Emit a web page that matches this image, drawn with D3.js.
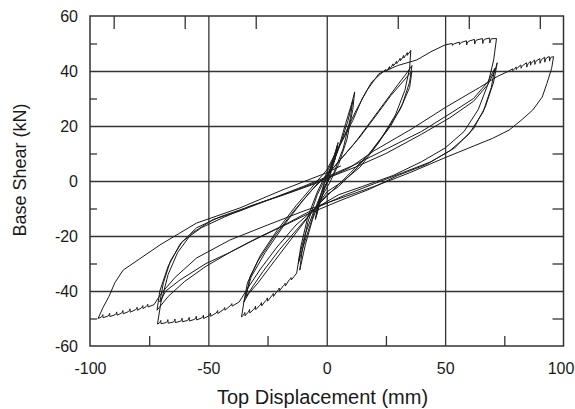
<!DOCTYPE html>
<html>
<head>
<meta charset="utf-8">
<title>Base Shear vs Top Displacement</title>
<script src="https://cdnjs.cloudflare.com/ajax/libs/d3/7.8.5/d3.min.js"></script>
<style>
  body { margin: 0; background: #fff; }
  svg text { font-family: "Liberation Sans", Arial, sans-serif; fill: #1a1a1a; }
</style>
</head>
<body>
<div id="chart"></div>
<script>
// axis ticks
const xTicks = [-100, -50, 0, 50, 100];
const yTicks = [-60, -40, -20, 0, 20, 40, 60];
const xGrid = [-50, 0, 50];
const yGrid = [-40, -20, 0, 20, 40];
const xMinorTop = [-90, -60, -30, 30, 60, 90];
const xMinorBottom = [-75, -25, 25, 75];
const yMinor = [-50, -30, -10, 10, 30, 50];

// hysteresis record, [top displacement mm, base shear kN], in test order
const loops5 = [[0,0],[2,6],[4.5,13],[3.5,8],[1,1],[-1,-3],[-3,-8],[-4.5,-13],[-3.5,-8],[-1,-1],[1,3],[3,8.5],[4.8,14],
  [3.6,8.5],[1,1.5],[-1,-2.5],[-3,-8.5],[-4.8,-14],[-3.6,-8],[-1,-0.5],[0,1]];
const loops12 = [[2,5],[5,12],[8,21],[10.5,28],[11.8,32.4],[11,26],[8.5,15],[5,6],[1,-1],[-3,-7],[-6,-14],[-9,-23],[-11.4,-32.4],
  [-10.5,-26],[-8,-15],[-4,-5],[0,2],[3,7],[6,14],[9,22],[11,29.5],[10,23],[7,12],[3,3],[-1,-2],[-4,-8],[-7,-16],[-10,-24],
  [-12,-30],[-11,-24],[-8,-13],[-4,-4],[0,3]];
const up35 = [[5,12],[11,22],[15,30],[19,36],[23.6,39.6]];
const down35a = [[35,41],[33,33],[29,24],[22,14],[14,5],[7,0],[0,-4],[-5,-10],[-9,-19],[-11.5,-27],[-12.7,-33.5]];
const up35a = [[-35,-44],[-32,-35],[-26,-26],[-18,-16],[-10,-7],[-4,-1],[0,2],[6,8],[12,14],[18,21],[24,28],[30,35],[34,39.5],[36,42]];
const down35b = [[35,36],[32,28],[27,20],[20,12],[12,4],[5,-2],[0,-5],[-6,-11],[-14,-20],[-22,-29],[-29,-37],[-33,-41],[-35,-44]];
const up35b = [[-33.5,-37],[-29,-29],[-22,-20],[-14,-11],[-6,-3],[0,2],[7,9],[14,16],[21,24],[27,31],[32,36],[36,40]];
const down35c = [[35,34],[31,26],[25,18],[18,10],[10,3],[3,-3],[-4,-9],[-12,-17],[-20,-25],[-27,-33],[-31,-38],[-34,-42]];
const up70a = [[-32.5,-35],[-28,-27],[-21,-18],[-13,-9],[-5,-1],[0,4],[6,14],[12,25],[17,33],[22,39],[30,42],[38,44],[44,47],[50,49.5]];
const down70a = [[70.5,44],[68,35],[64,26],[58,18],[50,12],[40,7],[28,2],[15,-2],[5,-5],[-5,-10],[-13,-16],[-21,-24],[-28,-32],[-33,-38.5],[-37,-44]];
const up70b = [[-70,-44],[-67,-34],[-63,-26],[-57,-19],[-48,-14],[-37,-11],[-25,-7],[-12,-3],[0,1],[12,5],[25,10],[40,17],[52,23],[62,29],[68,35],[71,40],[72,43]];
const down70b = [[70.5,36],[67,27],[62,19],[54,12],[44,7],[32,3],[20,-1],[8,-5],[-5,-10],[-18,-16],[-30,-21],[-40,-25.5],[-51,-31],[-60,-36.5],[-67,-42],[-71.7,-47]];
const up70c = [[-70.5,-40],[-67,-31],[-62,-23],[-55,-17],[-45,-13],[-35,-10],[-22,-6],[-10,-2],[0,1.5],[12,6],[26,12],[40,18],[53,25],[62,30],[68,36],[71,41]];
const down70c = [[69.5,34],[66,25],[60,17],[52,11],[42,6],[30,2],[18,-3],[6,-7],[-8,-12],[-20,-17],[-32,-22],[-41,-26],[-51,-30],[-62,-36],[-68,-40],[-70.5,-44]];
const up95 = [[-69,-37],[-66,-29],[-61,-22],[-53,-17],[-43,-13],[-32,-9],[-18,-5],[-5,-1],[0,1],[10,5],[20,11],[36,19],[50.6,27],[64.5,34],[72,38],[77,40]];
const down95 = [[95,41],[93,35.5],[91,30.5],[87,25.8],[82,22],[77,18.5],[70,15.5],[60,12],[50,8.5],[35,3],[20,-2],[5,-6.5],[-10,-11],[-25,-16],[-41,-21.5],[-55,-28],[-64,-35],[-70,-41],[-73,-45]];
const unload95 = [[-94.5,-46],[-92,-42],[-89.5,-37],[-86,-32.4],[-70,-23],[-55,-15.3],[-36.7,-9.8],[-18,-3],[0,3],[6,5.5]];

// relaxation teeth near the peaks: [displacement, shear before hold, force drop during hold]
const teeth35top = [[25,40.6,0.7],[26.5,41.6,0.8],[28,42.6,0.8],[29.5,43.6,0.9],[31,44.6,0.9],[32.5,45.7,1],[34,46.7,1],[35.5,47.5,0]];
const teeth35bot = [[-15,-36,0.9],[-17.5,-38.2,1],[-20,-40,1.1],[-22.5,-42,1.1],[-25,-43.7,1.2],[-27.5,-45.4,1.2],[-30,-46.8,1.3],
  [-32.5,-48,1.3],[-34.5,-49,1.2],[-36,-49.5,0]];
const teeth70top = [[53,50,0.7],[56,50.5,0.9],[59,51,1.5],[62.4,51.5,1.7],[65.8,51.8,1.8],[68.8,52,1.8],[71.7,51.8,0]];
const teeth70bot = [[-40,-45.5,0.9],[-43,-47,1],[-46,-48.2,1.1],[-49,-49.2,1.2],[-52,-50,1.2],[-55,-50.5,1.3],[-58,-50.9,1.3],
  [-61,-51.2,1.3],[-64,-51.5,1.3],[-67,-51.7,1.3],[-70,-51.9,1.2],[-71.5,-52,0]];
const teeth95top = [[78.5,40.8,0.7],[80,41.5,1],[82,42.2,1.2],[84.4,43,1.6],[86,43.5,1.4],[87.8,44,1.6],[90,44.5,1.7],[92,45,1.8],
  [94,45.3,1.7],[95.8,45.2,0]];
const teeth95bot = [[-75.5,-45.8,1],[-77.6,-46.4,1.1],[-80,-47,1.1],[-83,-47.7,1.2],[-86,-48.3,1.2],[-88.6,-48.8,1.2],
  [-91.6,-49.3,1.2],[-94.5,-49.7,1.1],[-96.6,-50,0]];

// each tooth: value before the hold, relaxed value, then a rounded reload back onto the curve
function expandTeeth(list, dir, sign) {
  const pts = [];
  list.forEach(function(t) {
    pts.push([t[0], t[1]]);
    if (t[2] > 0) {
      pts.push([t[0] + dir * 0.1, t[1] - sign * t[2]]);
      pts.push([t[0] + dir * 0.35, t[1] - sign * t[2] * 0.55]);
      pts.push([t[0] + dir * 0.8, t[1] - sign * t[2] * 0.15]);
    }
  });
  return pts;
}

const record = [].concat(
  loops5, loops12,
  up35, expandTeeth(teeth35top, 1, 1), down35a, expandTeeth(teeth35bot, -1, -1),
  up35a, down35b, up35b, down35c,
  up70a, expandTeeth(teeth70top, 1, 1), down70a, expandTeeth(teeth70bot, -1, -1),
  up70b, down70b, up70c, down70c,
  up95, expandTeeth(teeth95top, 1, 1), down95, expandTeeth(teeth95bot, -1, -1),
  unload95
);

const w = 575, h = 409;
const mLeft = 90, mRight = 563.5, mTop = 16, mBottom = 346;

const svg = d3.select("#chart").append("svg")
  .attr("width", w)
  .attr("height", h);

const x = d3.scaleLinear().domain([-100, 100]).range([mLeft, mRight]);
const y = d3.scaleLinear().domain([-60, 60]).range([mBottom, mTop]);

function plain(g) {
  g.select(".domain").remove();
  g.selectAll(".tick line").attr("stroke", "#333").attr("stroke-width", 1.3);
}

// grid
svg.append("g")
  .attr("transform", "translate(0," + mBottom + ")")
  .call(d3.axisBottom(x).tickValues(xGrid).tickSize(-(mBottom - mTop)).tickFormat(""))
  .call(plain);
svg.append("g")
  .attr("transform", "translate(" + mLeft + ",0)")
  .call(d3.axisLeft(y).tickValues(yGrid).tickSize(-(mRight - mLeft)).tickFormat(""))
  .call(plain);

// inner minor ticks
svg.append("g")
  .attr("transform", "translate(0," + mTop + ")")
  .call(d3.axisTop(x).tickValues(xMinorTop).tickSize(-13).tickFormat(""))
  .call(plain);
svg.append("g")
  .attr("transform", "translate(0," + mBottom + ")")
  .call(d3.axisBottom(x).tickValues(xMinorBottom).tickSize(-10).tickFormat(""))
  .call(plain);
svg.append("g")
  .attr("transform", "translate(" + mLeft + ",0)")
  .call(d3.axisLeft(y).tickValues(yMinor).tickSize(-7).tickFormat(""))
  .call(plain);
svg.append("g")
  .attr("transform", "translate(" + mRight + ",0)")
  .call(d3.axisRight(y).tickValues(yMinor).tickSize(-11).tickFormat(""))
  .call(plain);

// frame
svg.append("rect")
  .attr("x", mLeft).attr("y", mTop)
  .attr("width", mRight - mLeft).attr("height", mBottom - mTop)
  .attr("fill", "none")
  .attr("stroke", "#333")
  .attr("stroke-width", 1.5);

// tick labels
const xLab = svg.append("g")
  .attr("transform", "translate(0," + mBottom + ")")
  .call(d3.axisBottom(x).tickValues(xTicks).tickSize(0).tickPadding(17).tickFormat(d => String(d)));
xLab.select(".domain").remove();
xLab.selectAll("text").style("font-size", "16px").attr("fill", "#1a1a1a");
// keep the last label inside the window
xLab.selectAll("text").filter(d => d === 100).attr("dx", -3);

const yLab = svg.append("g")
  .attr("transform", "translate(" + mLeft + ",0)")
  .call(d3.axisLeft(y).tickValues(yTicks).tickSize(0).tickPadding(12).tickFormat(d => String(d)));
yLab.select(".domain").remove();
yLab.selectAll("text").style("font-size", "16px").attr("fill", "#1a1a1a");

// curve
const line = d3.line()
  .x(d => x(d[0]))
  .y(d => y(d[1]));

svg.append("path")
  .datum(record)
  .attr("d", line)
  .attr("fill", "none")
  .attr("stroke", "#1a1a1a")
  .attr("stroke-width", 1)
  .attr("stroke-linejoin", "round");

// axis titles
svg.append("text")
  .attr("x", 322.5)
  .attr("y", 404)
  .attr("text-anchor", "middle")
  .style("font-size", "20px")
  .text("Top Displacement (mm)");

svg.append("text")
  .attr("transform", "translate(26,170) rotate(-90)")
  .attr("text-anchor", "middle")
  .style("font-size", "18px")
  .text("Base Shear (kN)");
</script>
</body>
</html>
